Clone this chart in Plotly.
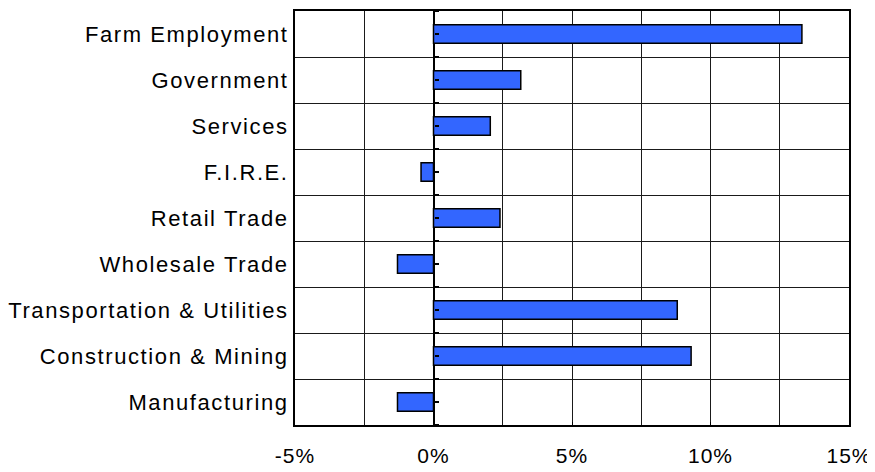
import plotly.graph_objects as go

# Sectors, bottom to top
sectors = ["Manufacturing", "Construction & Mining", "Transportation & Utilities",
           "Wholesale Trade", "Retail Trade", "F.I.R.E.", "Services",
           "Government", "Farm Employment"]
change_pct = [-1.3, 9.3, 8.8, -1.3, 2.4, -0.45, 2.05, 3.15, 13.3]

x_ticks = [-5, 0, 5, 10, 15]
x_ticktext = ["-5%", "0%", "5%", "10%", "15%"]

pos = list(range(len(sectors)))
bounds = [p + 0.5 for p in range(-1, len(sectors))]

fig = go.Figure()
fig.add_trace(go.Bar(
    x=change_pct, y=pos, orientation="h", width=0.4,
    marker=dict(color="#3366FF", line=dict(color="black", width=1.5)),
    showlegend=False, hoverinfo="skip",
))
# invisible trace to drive the zero-crossing tick axis
fig.add_trace(go.Scatter(x=[None], y=[None], yaxis="y2", showlegend=False))

grid = "#1a1a1a"
fig.update_layout(
    width=875, height=472,
    # page body has an 8px margin, so the margins are shifted to compensate
    margin=dict(l=287, r=34, t=1, b=55),
    paper_bgcolor="white", plot_bgcolor="white",
    font=dict(family="Liberation Sans, Arial, sans-serif", size=22, color="black"),
    xaxis=dict(
        range=[-5, 15], tickvals=x_ticks, ticktext=x_ticktext,
        tickfont=dict(size=21),
        showgrid=True, gridcolor=grid, gridwidth=1,
        minor=dict(dtick=2.5, tick0=0, showgrid=True, gridcolor=grid, gridwidth=1),
        zeroline=True, zerolinecolor="black", zerolinewidth=2,
        showline=True, linecolor="black", linewidth=2, mirror=True,
        ticks="inside", ticklen=3, tickcolor="black",
        ticklabelstandoff=11,
    ),
    yaxis=dict(
        range=[-0.5, len(sectors) - 0.5], tickvals=pos, ticktext=sectors,
        showgrid=False, zeroline=False,
        minor=dict(tickvals=bounds, showgrid=True, gridcolor=grid, gridwidth=1),
        showline=True, linecolor="black", linewidth=2, mirror=True,
        ticks="", ticklabelstandoff=0,
    ),
    yaxis2=dict(
        overlaying="y", anchor="free", position=0.25, side="right",
        range=[-0.5, len(sectors) - 0.5],
        tickvals=pos + bounds, showticklabels=False,
        ticks="outside", ticklen=4, tickcolor="black", tickwidth=1.5,
        showgrid=False, zeroline=False, showline=False,
    ),
)

# the original labels are set with a little extra letter spacing
spacing_js = (
    "var gd=document.getElementById('{plot_id}');"
    "gd.querySelectorAll('.ytick text').forEach(function(t){t.style.letterSpacing='1.6px';});"
    "gd.querySelectorAll('.xtick text').forEach(function(t){t.style.letterSpacing='1px';});"
)

fig.write_html("out.html", post_script=spacing_js)
